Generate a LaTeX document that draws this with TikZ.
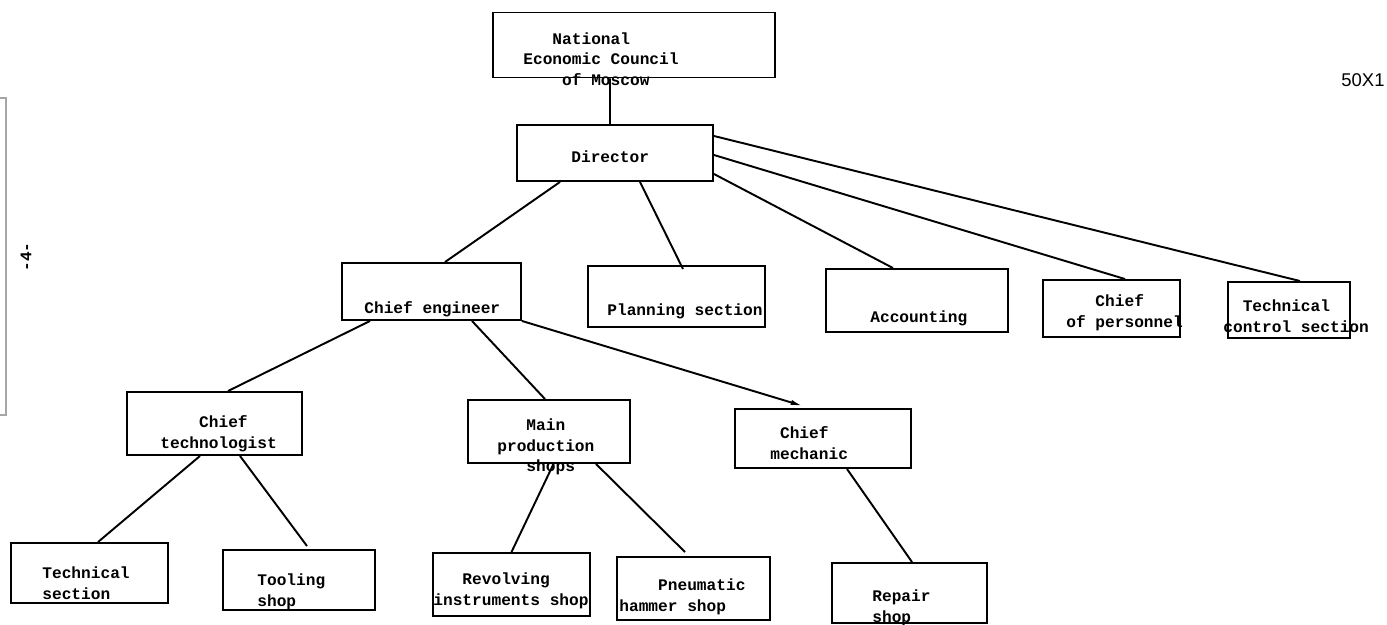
\documentclass[tikz,border=0pt]{standalone}
\usepackage{fontspec}
\setmonofont{Liberation Mono}
\newfontfamily\stampfont{Liberation Sans}
\usetikzlibrary{arrows.meta,calc}

\begin{document}
\begin{tikzpicture}[
    box/.style={draw, line width=1.1pt, inner sep=0pt},
    caption/.style={font=\ttfamily\bfseries\fontsize{9.2}{11.8}\selectfont, align=left, anchor=west, inner sep=0pt},
    link/.style={-, line width=1.1pt},
    margin mark/.style={gray!70, line width=0.6pt}
]
\useasboundingbox (0,0) rectangle (27.74,-12.50);

% Margin marks
\draw[margin mark] (0,-1.96) -- (0.12,-1.96) -- (0.12,-8.30) -- (0,-8.30);
\node[rotate=90, font=\ttfamily\bfseries\fontsize{9.2}{11}\selectfont] (pagenum) at (0.52,-5.14) {-4-};
\node[font=\stampfont\fontsize{10.5}{12}\selectfont] (stamp) at (27.26,-1.60) {50X1};

% Top level
\node[box, minimum width=5.64cm, minimum height=1.30cm] (council) at (12.68,-0.90) {};
\node[box, minimum width=3.92cm, minimum height=1.12cm] (director) at (12.30,-3.06) {};

% Second level
\node[box, minimum width=3.58cm, minimum height=1.14cm] (eng) at (8.63,-5.83) {};
\node[box, minimum width=3.54cm, minimum height=1.22cm] (plan) at (13.53,-5.93) {};
\node[box, minimum width=3.64cm, minimum height=1.26cm] (acc) at (18.34,-6.01) {};
\node[box, minimum width=2.74cm, minimum height=1.14cm] (pers) at (22.23,-6.17) {};
\node[box, minimum width=2.44cm, minimum height=1.12cm] (tcs) at (25.78,-6.20) {};

% Third level
\node[box, minimum width=3.50cm, minimum height=1.26cm] (tech) at (4.29,-8.47) {};
\node[box, minimum width=3.24cm, minimum height=1.26cm] (mps) at (10.98,-8.63) {};
\node[box, minimum width=3.52cm, minimum height=1.18cm] (mech) at (16.46,-8.77) {};

% Shops
\node[box, minimum width=3.14cm, minimum height=1.20cm] (tsec) at (1.79,-11.46) {};
\node[box, minimum width=3.04cm, minimum height=1.20cm] (tool) at (5.98,-11.60) {};
\node[box, minimum width=3.14cm, minimum height=1.26cm] (rev) at (10.23,-11.69) {};
\node[box, minimum width=3.06cm, minimum height=1.26cm] (pneu) at (13.87,-11.77) {};
\node[box, minimum width=3.10cm, minimum height=1.20cm] (repair) at (18.19,-11.86) {};

% Connections
\draw[link] ([xshift=-4.8mm]council.south) -- ([xshift=-1mm]director.north);
\draw[link] ([xshift=-11mm]director.south) -- ([xshift=2.7mm]eng.north);
\draw[link] ([xshift=5mm]director.south) -- ([xshift=1.3mm,yshift=-0.8mm]plan.north);
\draw[link] ([yshift=-4.2mm]director.east) -- ([xshift=-4.8mm]acc.north);
\draw[link] ([yshift=-0.4mm]director.east) -- ([xshift=2.7mm]pers.north);
\draw[link] ([yshift=3.4mm]director.east) -- ([xshift=2.2mm]tcs.north);
\draw[link] ([xshift=-12.3mm]eng.south) -- ([xshift=2.7mm]tech.north);
\draw[link] ([xshift=8.1mm]eng.south) -- ([xshift=-0.8mm]mps.north);
\draw[link, -{Latex[length=7pt,width=3pt]}] (eng.south east) -- ([xshift=-4mm,yshift=0.4mm]mech.north);
\draw[link] ([xshift=-2.9mm]tech.south) -- ([xshift=1.7mm]tsec.north);
\draw[link] ([xshift=5.1mm]tech.south) -- ([xshift=1.6mm,yshift=0.6mm]tool.north);
\draw[link] ([xshift=0.9mm]mps.south) -- (rev.north);
\draw[link] ([xshift=9.4mm]mps.south) -- ([xshift=-1.7mm,yshift=0.8mm]pneu.north);
\draw[link] ([xshift=4.8mm]mech.south) -- ([xshift=0.5mm]repair.north);

% Texts
\node[caption] (council-t) at (10.46,-1.18) {\phantom{xxx}National\\Economic Council\\\phantom{xxxx}of Moscow};
\node[caption] (director-t) at (11.42,-3.14) {Director};
\node[caption] (eng-t) at (7.28,-6.18) {Chief engineer};
\node[caption] (plan-t) at (12.14,-6.22) {Planning section};
\node[caption] (acc-t) at (17.40,-6.36) {Accounting};
\node[caption] (pers-t) at (21.32,-6.26) {\phantom{xxx}Chief\\of personnel};
\node[caption] (tcs-t) at (24.46,-6.32) {\phantom{xx}Technical\\control section};
\node[caption] (tech-t) at (3.20,-8.68) {\phantom{xxxx}Chief\\technologist};
\node[caption] (mps-t) at (9.94,-8.94) {\phantom{xxx}Main\\production\\\phantom{xxx}shops};
\node[caption] (mech-t) at (15.40,-8.86) {\phantom{x}Chief\\mechanic};
\node[caption] (tsec-t) at (0.84,-11.66) {Technical\\section};
\node[caption] (tool-t) at (5.14,-11.84) {Tooling\\shop};
\node[caption] (rev-t) at (8.66,-11.82) {\phantom{xxx}Revolving\\instruments shop};
\node[caption] (pneu-t) at (12.38,-11.94) {\phantom{xxxx}Pneumatic\\hammer shop};
\node[caption] (repair-t) at (17.44,-12.16) {Repair\\shop};

\end{tikzpicture}
\end{document}
